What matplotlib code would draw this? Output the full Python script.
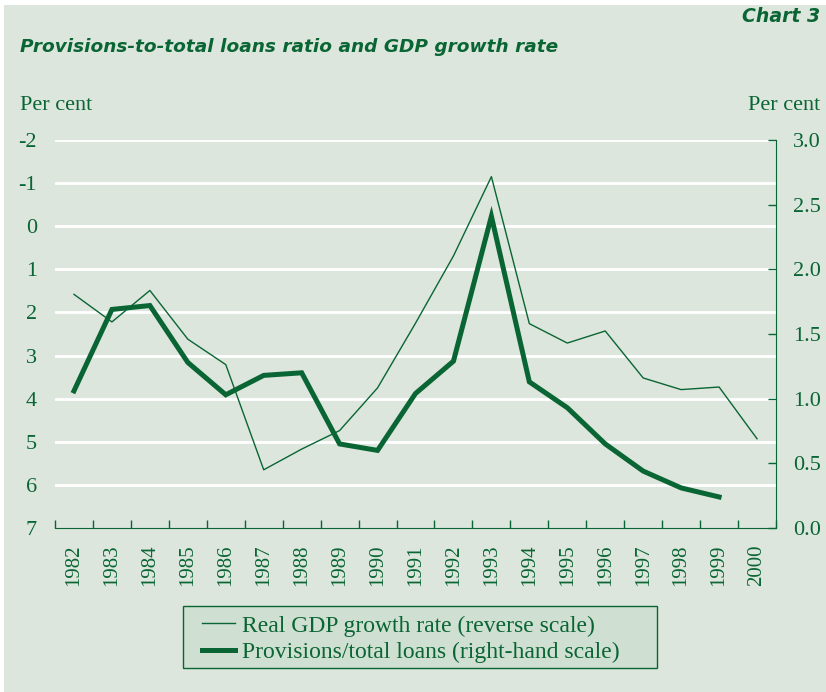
import matplotlib
matplotlib.use("Agg")
import matplotlib.pyplot as plt
from matplotlib.patches import Rectangle
from matplotlib.ticker import FixedLocator

# data
years = [str(y) for y in range(1982, 2001)]
gdp_growth = [1.58, 2.22, 1.49, 2.62, 3.21, 5.65, 5.17, 4.74, 3.75, 2.25,
              0.69, -1.15, 2.26, 2.71, 2.43, 3.52, 3.79, 3.73, 4.93]
provisions = [1.06, 1.69, 1.72, 1.28, 1.03, 1.18, 1.20, 0.65, 0.60, 1.04,
              1.29, 2.41, 1.13, 0.93, 0.65, 0.44, 0.31, 0.24]
left_ticks = list(range(-2, 8))
right_ticks = [0.0, 0.5, 1.0, 1.5, 2.0, 2.5, 3.0]

green = "#0a6534"
bg = "#dce6dc"
serif = "Liberation Serif"

W, H = 826, 692
fig = plt.figure(figsize=(W / 100, H / 100), dpi=100, facecolor="white")
fig.patches.append(Rectangle((4 / W, 0), 1, 1 - 5 / H, transform=fig.transFigure,
                             facecolor=bg, edgecolor="none", zorder=-10))

ax = fig.add_axes([55 / W, 1 - 528 / H, (776 - 55) / W, (528 - 140) / H])
ax.set_facecolor("none")
ax2 = ax.twinx()

x = list(range(len(years)))

# left axis: GDP growth, reversed
ax.set_xlim(-0.5, len(years) - 0.5)
ax.set_ylim(7, -2)
ax.set_yticks(left_ticks)
ax.set_yticklabels([str(t) for t in left_ticks], fontfamily=serif, fontsize=16, color=green)
ax.tick_params(axis="y", length=0, pad=13)
for t in left_ticks[:-1]:
    ax.axhline(t, color="white", lw=2, zorder=0)

ax.set_xticks(x)
ax.set_xticklabels(years, rotation=90, fontfamily=serif, fontsize=15, color=green)
ax.tick_params(axis="x", which="major", length=0, pad=12)
ax.xaxis.set_minor_locator(FixedLocator([i - 0.5 for i in range(len(years) + 1)]))
ax.tick_params(axis="x", which="minor", direction="in", length=6, color=green, width=1)

for s in ["top", "left", "right"]:
    ax.spines[s].set_visible(False)
ax.spines["bottom"].set_color(green)

l1, = ax.plot(x, gdp_growth, color=green, lw=1.0, zorder=3,
              label="Real GDP growth rate (reverse scale)")

# right axis: provisions / total loans
ax2.set_ylim(0, 3)
ax2.set_yticks(right_ticks)
ax2.set_yticklabels(["%.1f" % t for t in right_ticks], fontfamily=serif, fontsize=16, color=green)
ax2.tick_params(axis="y", direction="in", length=6, color=green, width=1, pad=12)
for s in ["top", "left", "bottom"]:
    ax2.spines[s].set_visible(False)
ax2.spines["right"].set_color(green)

l2, = ax2.plot(x[:len(provisions)], provisions, color=green, lw=3.6, zorder=4,
               solid_joinstyle="miter", label="Provisions/total loans (right-hand scale)")

# texts
fig.text(820 / W, 1 - 17 / H, "Chart 3", ha="right", va="center", fontsize=13.6,
         style="italic", weight="bold", color=green, family="DejaVu Sans")
fig.text(20 / W, 1 - 47 / H, "Provisions-to-total loans ratio and GDP growth rate",
         ha="left", va="center", fontsize=13.3, style="italic", weight="bold",
         color=green, family="DejaVu Sans")
fig.text(20 / W, 1 - 106 / H, "Per cent", ha="left", va="center", fontsize=16,
         color=green, family=serif)
fig.text(820 / W, 1 - 106 / H, "Per cent", ha="right", va="center", fontsize=16,
         color=green, family=serif)

# legend box drawn separately (text sits left of centre in the original)
fig.patches.append(Rectangle((183 / W, 1 - 668 / H), (657 - 183) / W, 62 / H,
                             transform=fig.transFigure, facecolor="#cfdfd1",
                             edgecolor=green, lw=1, zorder=-5))
leg = fig.legend(handles=[l1, l2], loc="upper left",
                 bbox_to_anchor=(202 / W, 1 - 615 / H),
                 prop={"family": serif, "size": 17}, frameon=False,
                 handlelength=1.4, handletextpad=0.3, labelspacing=0.22,
                 borderpad=0, borderaxespad=0)
for t in leg.get_texts():
    t.set_color(green)

fig.savefig("out.png", dpi=100, facecolor="white")
